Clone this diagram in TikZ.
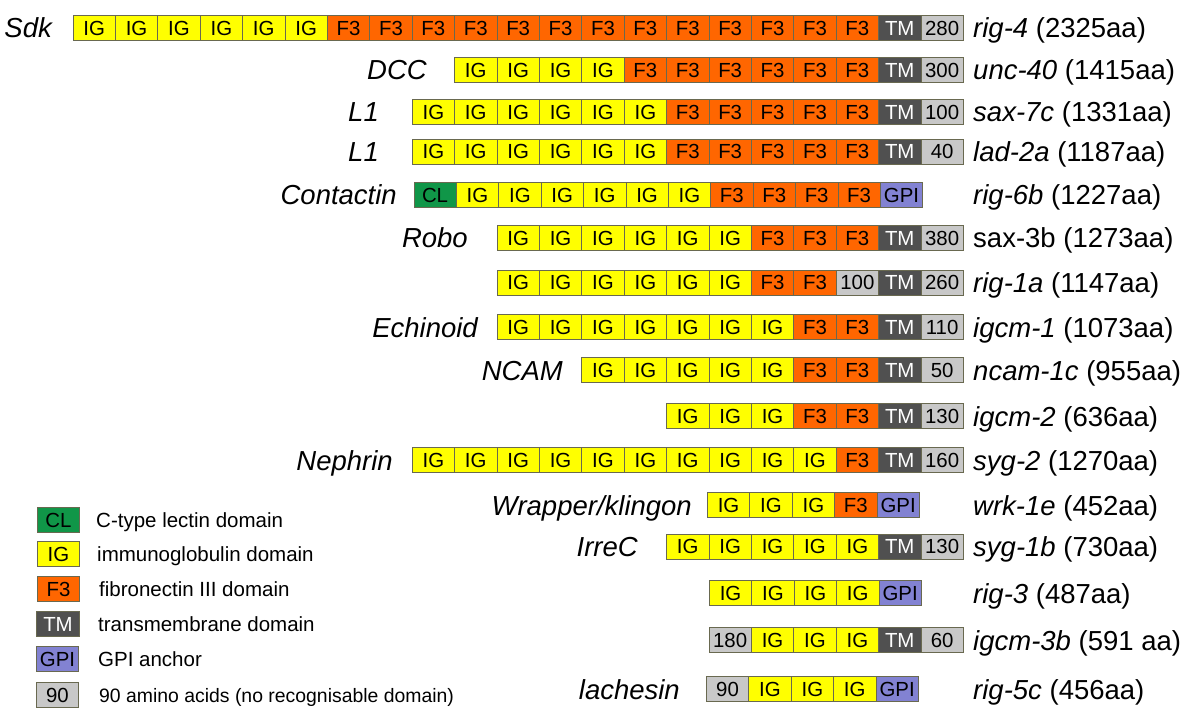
\documentclass[tikz,border=0pt]{standalone}
\usepackage{fontspec}
\setmainfont{Liberation Sans}
\definecolor{cIG}{RGB}{255,255,0}
\definecolor{cF3}{RGB}{255,102,0}
\definecolor{cTM}{RGB}{80,80,80}
\definecolor{cNA}{RGB}{200,200,200}
\definecolor{cGPI}{RGB}{130,130,210}
\definecolor{cCL}{RGB}{16,150,72}
\definecolor{cEdge}{RGB}{105,105,80}
\newcommand\cellfont{\fontsize{20.4}{20.4}\selectfont}
\newcommand\labfont{\fontsize{27.5}{30}\selectfont}
\newcommand\legfont{\fontsize{20.5}{22}\selectfont}
\tikzset{
  cell/.style={draw=cEdge, line width=0.7pt, minimum width=42.4pt, minimum height=25pt,
    inner sep=0pt, anchor=west, font=\cellfont, text height=14.6pt, text depth=0pt},
  dIG/.style={cell, fill=cIG},
  dF3/.style={cell, fill=cF3},
  dTM/.style={cell, fill=cTM, text=white},
  dNA/.style={cell, fill=cNA},
  dGPI/.style={cell, fill=cGPI},
  dCL/.style={cell, fill=cCL},
  llab/.style={anchor=base east, font=\labfont\itshape, inner sep=0pt},
  rlab/.style={anchor=base west, font=\labfont, inner sep=0pt},
  legtext/.style={anchor=base west, font=\legfont, inner sep=0pt},
}
\newcommand\domrow[4]{%
  \foreach \ty/\lab [count=\i from 0] in {#4} {
    \node[d\ty] (#1-\i) at ({#2+\i*42.4},#3) {\lab};
  }}
\begin{document}
\begin{tikzpicture}[x=1pt,y=-1pt]
\useasboundingbox (0,0) rectangle (1200,714);
\fill[white] (0,0) rectangle (1200,714);

% Sdk
\domrow{sdk}{72.6}{28}{IG/IG,IG/IG,IG/IG,IG/IG,IG/IG,IG/IG,F3/F3,F3/F3,F3/F3,F3/F3,F3/F3,F3/F3,F3/F3,F3/F3,F3/F3,F3/F3,F3/F3,F3/F3,F3/F3,TM/TM,NA/280}
\node[llab] (sdk-n) at (52,38) {Sdk};
\node[rlab] (sdk-g) at (973,38) {\textit{rig-4} (2325aa)};

% DCC
\domrow{dcc}{454.2}{70}{IG/IG,IG/IG,IG/IG,IG/IG,F3/F3,F3/F3,F3/F3,F3/F3,F3/F3,F3/F3,TM/TM,NA/300}
\node[llab] (dcc-n) at (427,80) {DCC};
\node[rlab] (dcc-g) at (973,80) {\textit{unc-40} (1415aa)};

% L1 a
\domrow{la}{411.8}{112}{IG/IG,IG/IG,IG/IG,IG/IG,IG/IG,IG/IG,F3/F3,F3/F3,F3/F3,F3/F3,F3/F3,TM/TM,NA/100}
\node[llab] (la-n) at (379,122) {L1};
\node[rlab] (la-g) at (973,122) {\textit{sax-7c} (1331aa)};

% L1 b
\domrow{lb}{411.8}{151.5}{IG/IG,IG/IG,IG/IG,IG/IG,IG/IG,IG/IG,F3/F3,F3/F3,F3/F3,F3/F3,F3/F3,TM/TM,NA/40}
\node[llab] (lb-n) at (379,161.5) {L1};
\node[rlab] (lb-g) at (973,161.5) {\textit{lad-2a} (1187aa)};

% Contactin
\domrow{con}{413.5}{195}{CL/CL,IG/IG,IG/IG,IG/IG,IG/IG,IG/IG,IG/IG,F3/F3,F3/F3,F3/F3,F3/F3,GPI/GPI}
\node[llab] (con-n) at (397,205) {Contactin};
\node[rlab] (con-g) at (973,205) {\textit{rig-6b} (1227aa)};

% Robo
\domrow{rob}{496.6}{238}{IG/IG,IG/IG,IG/IG,IG/IG,IG/IG,IG/IG,F3/F3,F3/F3,F3/F3,TM/TM,NA/380}
\node[llab] (rob-n) at (468,248) {Robo};
\node[rlab] (rob-g) at (973,248) {sax-3b (1273aa)};

% rig-1a
\domrow{rg}{496.6}{282.5}{IG/IG,IG/IG,IG/IG,IG/IG,IG/IG,IG/IG,F3/F3,F3/F3,NA/100,TM/TM,NA/260}
\node[rlab] (rg-g) at (973,292.5) {\textit{rig-1a} (1147aa)};

% Echinoid
\domrow{ech}{496.6}{327}{IG/IG,IG/IG,IG/IG,IG/IG,IG/IG,IG/IG,IG/IG,F3/F3,F3/F3,TM/TM,NA/110}
\node[llab] (ech-n) at (478,337) {Echinoid};
\node[rlab] (ech-g) at (973,337) {\textit{igcm-1} (1073aa)};

% NCAM
\domrow{nc}{581.4}{370}{IG/IG,IG/IG,IG/IG,IG/IG,IG/IG,F3/F3,F3/F3,TM/TM,NA/50}
\node[llab] (nc-n) at (563,380) {NCAM};
\node[rlab] (nc-g) at (973,380) {\textit{ncam-1c} (955aa)};

% igcm-2
\domrow{ig}{666.2}{416}{IG/IG,IG/IG,IG/IG,F3/F3,F3/F3,TM/TM,NA/130}
\node[rlab] (ig-g) at (973,426) {\textit{igcm-2} (636aa)};

% Nephrin
\domrow{ne}{411.8}{460}{IG/IG,IG/IG,IG/IG,IG/IG,IG/IG,IG/IG,IG/IG,IG/IG,IG/IG,IG/IG,F3/F3,TM/TM,NA/160}
\node[llab] (ne-n) at (393,470) {Nephrin};
\node[rlab] (ne-g) at (973,470) {\textit{syg-2} (1270aa)};

% Wrapper/klingon
\domrow{wr}{707}{505}{IG/IG,IG/IG,IG/IG,F3/F3,GPI/GPI}
\node[llab] (wr-n) at (692,515) {Wrapper/klingon};
\node[rlab] (wr-g) at (973,515) {\textit{wrk-1e} (452aa)};

% IrreC
\domrow{ir}{666.2}{546.5}{IG/IG,IG/IG,IG/IG,IG/IG,IG/IG,TM/TM,NA/130}
\node[llab] (ir-n) at (638,556.5) {IrreC};
\node[rlab] (ir-g) at (973,556.5) {\textit{syg-1b} (730aa)};

% rig-3
\domrow{r3}{709}{593}{IG/IG,IG/IG,IG/IG,IG/IG,GPI/GPI}
\node[rlab] (r3-g) at (973,603) {\textit{rig-3} (487aa)};

% igcm-3b
\domrow{i3}{708.6}{640}{NA/180,IG/IG,IG/IG,IG/IG,TM/TM,NA/60}
\node[rlab] (i3-g) at (973,650) {\textit{igcm-3b} (591 aa)};

% lachesin
\domrow{lac}{706}{689}{NA/90,IG/IG,IG/IG,IG/IG,GPI/GPI}
\node[llab] (lac-n) at (680,699) {lachesin};
\node[rlab] (lac-g) at (973,699) {\textit{rig-5c} (456aa)};

% Legend
\node[dCL, anchor=center] (lg-cl) at (58.5,520) {CL};
\node[legtext] (lt-cl) at (96,527.3) {C-type lectin domain};
\node[dIG, anchor=center] (lg-ig) at (58.5,554) {IG};
\node[legtext] (lt-ig) at (97,561.3) {immunoglobulin domain};
\node[dF3, anchor=center] (lg-f3) at (58.5,589) {F3};
\node[legtext] (lt-f3) at (99,596.3) {fibronectin III domain};
\node[dTM, anchor=center] (lg-tm) at (58,624) {TM};
\node[legtext] (lt-tm) at (98,631.3) {transmembrane domain};
\node[dGPI, anchor=center] (lg-gpi) at (57.5,659) {GPI};
\node[legtext] (lt-gpi) at (98,666.3) {GPI anchor};
\node[dNA, anchor=center] (lg-na) at (57.5,695) {90};
\node[legtext, font=\fontsize{19.4}{21}\selectfont] (lt-na) at (99,702) {90 amino acids (no recognisable domain)};
\end{tikzpicture}
\end{document}
